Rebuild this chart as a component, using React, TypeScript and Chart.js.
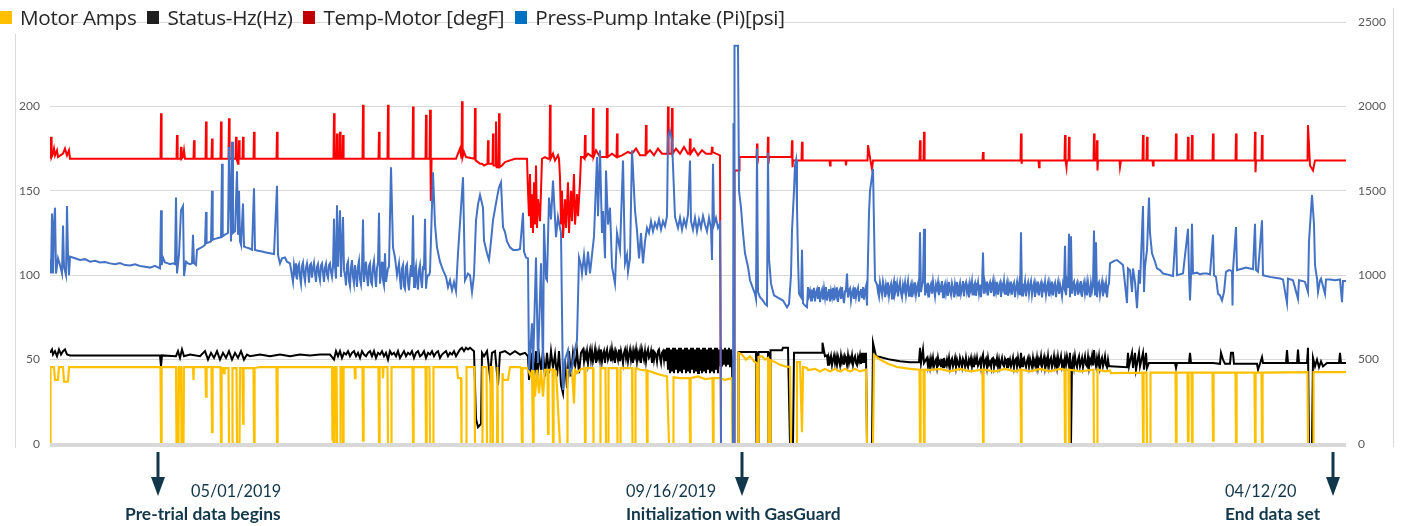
import React, { useEffect, useRef } from "react";
import { Chart, registerables } from "chart.js";

Chart.register(...registerables);

// Sample index (time-ordered logger samples) 0..1296
const SAMPLE_MAX = 1296;

// consecutive samples starting at `start`
const run = (start: number, values: number[], step = 1): [number, number][] =>
  values.map((v, i) => [start + i * step, v] as [number, number]);

// ---- Motor Amps (left axis) ----
const motorAmps: [number, number][] = [
  [0,0],[0.5,45.6],[4,45.6],[5,38],[8,38],[9,45.6],[13,45.6],[14,37],[18,37],[19,45.6],[110.5,45.6],[111,0],[111.6,45.6],[126,45.6],[126.5,0],[128.5,0],[129,45.6],[131,45.6],[131.5,0],[133.5,0],[134,45.6],[143,45.6],[143.5,38],[144,45.6],[155.5,45.6],[156,28],[156.6,45.6],[161.5,45.6],[162,7],[162.6,45.6],[170.5,45.5],[171,0],[171.6,45],[173.5,45],[174,42],[174.6,45],[178.5,45],[179,0],[182,0],[182.5,45],[186.5,45],[187,0],[189.5,0],[190,45],[192.5,45],[193,12],[193.6,45],[203.5,45],[204,0],[204.6,45],[210,45.6],[226.5,45.6],[227,0],[227.6,45.6],[282,45.6],[282.5,2],[283,45.6],[283.5,0],[284.5,0],[285,45.6],[286.5,45.6],[287,0],[290,0],[290.5,45.6],[292.5,45.6],[293,0],[293.6,45.6],[304.5,45.6],[305,39],[305.6,45.6],[312.5,45.6],[313,2],[313.6,45.6],[328.5,45.6],[329,0],[329.6,45.6],[332.5,45.6],[333,39],[333.6,45.6],[337.5,45.6],[338,0],[341,0],[341.5,45.6],[362.5,45.6],[363,0],[363.6,45.6],[375.5,45.6],[376,0],[376.6,45.6],[379.5,45.6],[380,0],[383,0],[383.5,45.6],[407,45.6],[408,39],[411,39],[411.5,0],[416,0],[416.5,45.6],[424.5,45.6],[425,0],[432,0],[432.5,45.6],[436.5,45.6],[437,0],[440,0],[440.5,45.6],[442.5,45.6],[443,0],[447,0],[447.5,45.6],[448,0],[452,0],[452.5,42],[453,38],[458,38],[460,45.6],[470,45.6],
  [471,45],[472,0],[472.6,45],[477,45],[478,44],[481,40],[482,44],[483,0],[483.6,44],[485,28],[487,44],[489,30],[491,44],[493,28],[495,44],[497.5,44],[498,6],[498.6,44],[502.5,44],[503,0],[503.6,44],[506,43],[510,0],[517,0],[517.5,44],[522,44],[524,24],[525,44],[527,42],[530,44],[534.5,45],[535,0],[535.6,45],[543,45],[543.5,0],[550,0],[550.5,45],[555.5,45],[556,0],[558,0],[558.5,45],[567,45],[567.5,0],[570,0],[570.5,45],[582,45],[582.5,0],[585,0],[585.5,45],[590,44],[596.5,43.5],[597,0],[597.6,43.5],[605,42],[610,41],[617,40],[619,0],[623,0],[623.5,39.5],[630,39],[639.5,39],[640,0],[640.6,39],[648,40],[655,38.5],[662.5,39],[663,0],[663.6,39],[670,39],[675,38],[682,39],[682.5,0],[688,0],[688.5,54],[692,53],[696,50],[700,52],[704,49],[706.5,48],[707,0],[708,0],[708.5,51.5],[712,52],[715,50],[718,51],[718.5,0],[720,0],[720.5,49.7],[725,48.5],[730,47],[735,46],[740,45.6],[741,0],[746,0],[747,48.5],[750,48.5],[752,7],[753,45.6],[757,45],[758,43.8],
  [765,44.5],[770,43],[775,44.5],[780,43],[785,44.5],[790,43],[795,44.5],[800,43],[805,44.5],[810,43],[816,44],[817,0],[823,0],[824,52.7],[830,50],[838,47.5],[847,45.6],[860,44.5],[869.5,44],[870,0],[870.6,44],[873.5,44],[874,0],[874.6,44],[880,43.8],[890,44.5],[900,43],[910,44.5],[920,43],[932.5,44],[933,0],[933.6,44],[945,43],[955,44.5],[965,43],[970.5,44],[971,0],[971.6,44],[980,43],[990,44.5],[1000,43],[1010,44.5],[1014.5,44],[1015,0],[1015.6,44],[1018.5,44],[1019,0],[1019.6,44],[1030,43],[1043.5,44],[1044,0],[1047,0],[1047.5,44],[1055,43],[1060,43.5],[1061,42],[1092.5,42.3],[1093,0],[1093.6,42.3],[1096.5,42.3],[1097,0],[1100,0],[1100.5,42.3],[1125.5,42.3],[1126,0],[1126.6,42.3],[1137.5,42.3],[1138,1.7],[1138.6,42.3],[1141.5,42.3],[1142,0],[1142.6,42.3],[1162.5,42.3],[1163,2],[1163.6,42.3],[1185.5,42.3],[1186,0],[1186.6,42.3],[1204.5,42.3],[1205,0],[1205.6,42.3],[1211.5,42.3],[1212,0],[1212.6,42.3],[1257.5,42.6],[1258,0],[1263,0],[1263.5,42.6],[1296,42.6]
];

// ---- Status-Hz (left axis) ----
const statusHzA: [number, number][] = [
  [0,54],[2,56],[3,53],[5,55],[7,52],[9,56],[11,53],[13,55],[15,56],[17,53],[20,52.5],[60,52.5],[110,52.5],[111,46],[112,52.5],[126,52],[128,55],[130,51],[132,56],[134,52],[140,53],[150,52],[155,55],[158,50],[161,54],[164,51],[167,55],[170,50],[173,54],[176,51],[179,55],[182,50],[185,54],[188,51],[191,55],[194,50],[197,53],[200,52],[210,53],[220,52],[230,53],[240,52],[250,53],[260,52.5],[270,53],[280,53]
];
const statusHzB = run(284, [
  50,55,52,55,51,54,53,55,52,54, 55,52,54,51,55,53,52,54,55,52, 55,51,54,53,55,52,54,50,55,53,
  54,52,55,51,53,55,52,54,53,55, 51,54,55,52,53,55,51,54,53,55, 52,54,55,51,53,54,55,52,54,53,
  55,52,54,56,57,55,57,56,57,56, 55
], 2);
const statusHzC: [number, number][] = [
  [426,15],[428,10],[431,12],[432,54],[434,52],[437,55],[440,40],[442,54],[445,55],[448,35],[450,54],[455,55],[460,53],[465,55],[470,53],[475,54],
  [478,52],[479,38],[480,55],[481,42],[482,54],[484,40],[486,55],[487,38],[489,53],[491,44],[493,55],[495,40],[497,54],[499,42],[501,55],[503,45],[505,53],[507,40],[509,55],[511,35],[513,30],[515,50],[517,33],[519,55],[521,40],[523,54],[525,45],[527,55],[529,42],[531,54]
];
const statusHzD = run(533, [
  56,49,54,51,55,48,53,56,50,55, 49,52,56,48,54,51,55,50,56,49, 53,55,48,54,56,50,52,55,49,56,
  51,54,48,55,53,50,56,49,55,52, 48,54,56,51,55,49,53,56,50,54, 48,55,52,56,49,54,51,55,48,56,
  53,50,55,49,54,56,51,52,55,48, 56,50,54,53,49,55,56,51,48,54, 55,50,56,49
]);
const statusHzE = run(617, [
  57,44,57,42,56,43,57,42,57,44, 56,42,57,43,57,42,56,44,57,42, 57,43,56,42,57,44,57,42,56,43,
  57,42,57,44,56,42,57,43,57,42, 56,44,57,42,57,43,56,42,57,44, 57,42,56,46,57,46,56,47,57,46,
  56,47,57,46,56,50
]);
const statusHzF: [number, number][] = [
  [683,0],[688,0],[688.5,54.5],[706,54.5],[706.5,0],[708,0],[708.5,54.5],[718,54.5],[718.5,0],[720,0],[720.5,55.6],[732,55.6],[733,57],[738,57],[740,0],[743,0],[744,54],[760,54],[772,54],[772.5,60],[775,52]
];
const statusHzG = run(777, [
  52.5,47,51,49,52,46.7,50,52.5,48,51.5, 47,52,49.5,46.7,52.5,48.5,51,47,52,50,
  46.7,52.5,48,51,49,52.5,47,50.5,52,48, 46.7,51.5,49,52.5,47.5,54
]);
const statusHzH: [number, number][] = [
  [813,48],[814,54],[815,48],[816,54],[817,0],[822,0],[823,60],[826,52],[830,51.5],[840,50],[850,49],[860,48.5],[869,48.5],[870,57],[871,48],[873,56],[874,48]
];
const statusHzI = run(877, [
  51,46,49.5,45.5,50.5,47,51,46,48.5,50, 45.5,51,47.5,49,46,50.5,45.5,51,48,46.5,
  50,47,51,45.5,49,50.5,46,48,51,45.5, 50,47.5,46,51,48.5,45.5,50.5,49,46,51,
  47,45.5,50,48,51,46,49.5,45.5,50.5,47, 51,46.5,48,50,45.5,51,53,46,49,50.5,
  45.5,51,47,48.5,46,50.5,51,45.5,49,47.5, 51,46,50,45.5,48.5,51,47,46,50.5,49,
  45.5,51,47.5,50,46,48,51,45.5,49.5,50.5, 46,51,47,45.5,54,46,50,51,47.5,45.5,
  49,51,46,50.5,48,45.5,51,47,49.5,46, 51,45.5,50,48,52,46,49,51.5,45.5,50,
  47,52,46,49.5,51,45.5,48,52,46.5,50, 45.5,51.5,47,49,52,46,48.5,45.5,51,47,
  52,49,46,54,0,48,51,46,52,47.5, 45.5,50,52,46,48.5,51,45.5,49,52,47,
  46,51.5,45.5,50,48,52,46.5,55.6,49,46, 51,47.5,52,45.5,49,51,46,48.5,52,47,
  45.5,50,46
]);
const statusHzJ: [number, number][] = [
  [1060,46],[1077,45.5],[1078,54],[1079,46],[1082,54],[1083,45],[1085,54],[1086,44],[1089,54],[1090,46],[1093,54],[1094,44],[1096,54],[1097,45],[1099,48],[1110,48],[1125,48],[1126,45],[1127,48],[1139,48],[1140,54],[1141,48],[1163,48],[1170,47.5],[1171,54],[1173,50],[1175,47.5],[1180,47.5],[1181,54],[1183,54],[1184,47.5],[1207,47.5],[1208,44],[1210,47.5],[1212,51.5],[1213,48],[1236,48],[1237,55.6],[1238,48],[1247,48],[1248,56],[1249,48],[1257,48],[1258,57],[1259,0],[1262,0],[1263,51],[1265,46],[1267,50],[1269,45.5],[1271,49],[1273,46],[1277,48],[1289,48],[1290,54],[1291,48],[1296,48]
];
const statusHz = [...statusHzA, ...statusHzB, ...statusHzC, ...statusHzD, ...statusHzE, ...statusHzF, ...statusHzG, ...statusHzH, ...statusHzI, ...statusHzJ];

// ---- Temp-Motor (left axis) ----
const tempMotor: [number, number][] = [
  [0,169],[1,182],[1.6,170],[3,172],[4,175],[5,171],[7,174],[8,170],[13,172],[15,175],[17,171],[19,174],[20,169],
  [110.5,169],[111,196],[111.6,169],[126.5,169],[127,183],[127.6,169],[130.5,169],[131,176],[131.6,169],[133,170],[134,174],[135,169],[143.5,169],[144,180],[144.6,169],
  [155.5,169],[156,191],[156.6,169],[161.5,169],[162,181],[162.6,169],[170.5,169],[171,191],[171.6,169],[178.5,169],[179,193],[179.6,169],[185.5,169],[186,182],[186.6,169],[188,166],[188.5,169],[189,180],[189.6,169],[192.5,169],[193,182],[193.6,169],[203.5,169],[204,185],[204.6,169],[226.5,169],[227,185],[227.6,169],
  [283.5,169],[284,196],[284.6,169],[286.5,169],[287,184],[287.6,169],[289.5,169],[290,185],[290.6,169],[292.5,169],[293,183],[293.6,169],
  [312.5,169],[313,201],[313.6,169],[328.5,169],[329,185],[329.6,169],[337.5,169],[338,201],[338.6,169],[362.5,169],[363,200],[363.6,169],[375.5,169],[376,195],[376.6,169],[379.5,169],[380,198],[380.6,169],[381,144],[381.6,169],
  [406,169],[408,172],[410,175],[411.5,169],[412,203],[412.6,170],[414,173],[416,170],[424.5,169],[425,199],[425.6,168],[428,167],[430,166],[432,166],[434,165],[437.5,166],[438,180],[438.6,166],[442.5,166],[443,184],[443.6,165],[445.5,165],[446,191],[446.6,164],[448.5,164],[449,196],[449.6,164],[452,165],[455,167],[460,168],[465,169],[470,169],[475,169],[477,169],
  [478,150],[479,135],[480,160],[481,128],[482,148],[483,125],[484,155],[485,130],[486,165],[487,128],[488,145],[489,140],[490,132],[491,150],[492,169],
  [495,170],[498,169],[499.5,169],[500,201],[500.6,169],[503,172],[505,168],[508,171],[509,169],
  [510,158],[511,130],[512,150],[513,122],[515,145],[516,128],[518,155],[519,125],[521,150],[522,132],[524,160],[525,130],[527,148],[528,135],[530,155],[531,170],
  [533,170],[534.5,169],[535,183],[535.6,170],[538,172],[542.5,170],[543,199],[543.6,170],[546,174],[550,170],[556.5,170],[557,199],[557.6,170],[562,172],[566.5,170],[567,184],[567.6,170],[572,171],[578,173],[582,172],[586,175],[590,171],[595.5,171],[596,189],[596.6,172],[600,174],[604,171],[608,175],[612,172],[617.5,172],[618,200],[618.6,172],[621.5,172],[622,199],[622.6,172],[626,175],[630,172],[634,176],[638,172],[639.5,172],[640,181],[640.6,172],[644,175],[648,171],[652,174],[656,172],[661.5,172],[662,176],[662.6,173],[666,172],[670,171],
  [671,0],[684,0],[684.5,162],[689,162],[689.5,170],
  [706.5,170],[707,178],[707.5,166],[708,170],[717.5,170],[718,182],[718.5,166],[719,170],[741.5,170],[742,180],[742.5,164],[743,168],[751.5,168],[752,179],[752.6,168],
  [779.5,168],[780,165],[780.6,168],[795.5,168],[796,165],[796.6,168],[817.5,168],[818,177],[821,166],[822,163],[823,168],
  [869.5,168],[870,180],[870.6,168],[873.5,168],[874,185],[874.6,168],[932.5,168],[933,173],[933.6,168],[970.5,168],[971,184],[971.6,166],[972,168],[988.5,168],[989,164],[989.6,168],
  [1014.5,168],[1015,183],[1015.6,168],[1016.5,164],[1017,168],[1018.5,168],[1019,182],[1019.6,168],[1043.5,168],[1044,184],[1044.6,168],[1046.5,168],[1047,180],[1047.5,162],[1048,168],[1069.5,168],[1070,164],[1071,168],[1092.5,168],[1093,183],[1093.6,168],[1096.5,168],[1097,182],[1097.6,168],[1102.5,168],[1103,165],[1103.6,168],[1125.5,168],[1126,184],[1126.6,168],[1137.5,168],[1138,182],[1138.6,168],[1141.5,168],[1142,183],[1142.6,168],[1162.5,168],[1163,184],[1163.6,168],[1185.5,168],[1186,184],[1186.6,168],[1204.5,168],[1205,185],[1205.5,161],[1206,168],[1211.5,168],[1212,183],[1212.6,168],[1257.5,168],[1258,189],[1260,165],[1263,162],[1265,168],[1296,168]
];

// ---- Press-Pump Intake (right axis, psi) ----
const pressA: [number, number][] = [
  [0,1095],[1,1010],[2,1365],[3,1010],[4,1300],[5,1400],[6,1010],[8,1100],[10,1060],[12,1010],[13,1295],[14,1050],[16,1000],[17,1410],[18,1120],[19,1000],[20,1110],
  [25,1100],[30,1090],[35,1095],[40,1080],[45,1085],[50,1075],[55,1078],[60,1070],[65,1065],[70,1072],[75,1060],[80,1058],[85,1065],[90,1055],[95,1050],[100,1045],[105,1055],[110,1040],
  [110.5,1040],[111,1385],[111.8,1060],[113,1105],[115,1075],[118,1070],[120,1065],[123,1070],
  [125,1065],[126,1460],[127,1010],[129,1120],[131,1385],[133,1410],[134,995],[136,1080],[138,1070],[140,1065],
  [142,1070],[143,1240],[144,1070],[146,1060],[147,1150],[150,1160],
  [153,1170],[155,1180],[156,1375],[156.6,1190],[159,1195],[161,1200],[162,1500],[162.7,1210],[165,1215],[168,1220],[171,1225],[172,1660],[172.7,1230],[175,1240],[178,1250],[179,1760],[181,1200],[182,1790],[183,1250],[185,1260],[187,1615],[188,1240],[189,1500],[190,1200],[191,1180],[193,1425],[194,1170],[196,1165],[199,1160],[202,1150],[204,1515],[205,1150],[208,1145],[212,1140],[216,1135],[220,1130],[224,1125],[227,1530],[228,1120],[230,1070],[232,1100],[235,1105],[237,1080],[240,1070]
];
const pressB = run(243, [
  960,1060,1020,1070,975,1050,1065,990,950,1055, 1075,1000,965,1045,1070,1030,955,1060,1068,985,
  1040,1072,1010,960,1050,1066,1000,970,1058,1070, 1015,960,1045,1068,1005,985,1060,1070,1020,990, 1050
]);
const pressC: [number, number][] = [
  [284,1335],[285,1050],[286,980],[287,1415],[288,1050],[290,1385],[291,990],[293,1345],[294,1030]
];
const pressD = run(295, [
  1000,940,1060,1080,965,935,1045,1090,990,950, 1060,1010,930,1050,1085,975,945,1040,1330,960,
  1020,1080,990,935,1055,1070,960,945,1050,1085, 1000,930,1040,1075,1370,950,1010,1080,970,940,
  1130,960,1000,1040
]);
const pressE: [number, number][] = [[339,1050],[341,1640],[343,1165],[345,1105],[347,1000]];
const pressF = run(349, [
  1070,980,915,1040,1060,935,920,1050,1065,960, 910,1000,1060,990,1355,930,1010,1050,960,915,
  1030,1060,975,925,1045,1040,1335,920,985,1000, 1000,1020
]);
const pressG: [number, number][] = [
  [383,1610],[385,1300],[387,1165],[390,1080],[393,1030],[396,990],[398,930],[400,970],[402,910],[404,960],[406,905],[408,1130],[413,1580],[415,970],[418,1010],[420,1000],[422,900],
  [424,1000],[426,1325],[428,1420],[430,1475],[433,1400],[434,1205],[437,1130],[439,1090],[441,1200],[443,1325],[447,1460],[449,1520],[451,1550],[453,1285],[455,1255],[457,1200],[460,1165],[463,1150],[467,1150],[470,1155],
  [473,1370],[474,1140],[476,1105],[478,1100],
  [479,440],[481,620],[482,715],[483,440],[486,1105],[488,480],[491,1070],[493,440],[494,1305],[496,980],[497,970],[499,1460],[501,1330],[503,1560],[506,1225],[508,1345],[511,1250],
  [513,320],[515,500],[518,555],[520,420],[522,455],[525,560],[527,615],[529,1105],[531,1060],[532,1010],
  [534,1120],[536,1000],[538,1140],[540,1010],[542,1120],[544,1230],[547,1700],[548,1350],[550,1740],[552,1250],[553,1380],[555,1100],[556,1620],[558,1300],[560,1400],[562,1050],[565,950],[567,1250],[570,1150],[573,1680],[575,1070],[577,1120],[578,1020],[580,1100],
  [582,1740],[585,1385],[587,1265],[589,1100],[591,1250],[593,1070],[595,1200],[597,1280],[599,1250],[601,1320],[603,1260],[605,1310],[607,1280],[609,1330],[611,1270],[613,1320],[615,1290],
  [617,1350],[618,1820],[620,1855],[622,1800],[625,1345],[628,1280],[630,1340],[632,1270],[634,1330],[636,1290],[638,1360],[640,1680],[641,1320],[643,1270],[645,1340],[647,1260],[649,1330],[651,1280],[653,1350],[655,1300],[657,1260],[659,1340],[661,1280],[662,1090],[663,1660],[664,1300],[666,1340],[668,1280],[670,1305],
  [671,0],[683,0],[683.5,1900],[684,0],[684.5,2360],[688,2360],[689,1500],
  [691,1400],[693,1250],[695,1130],[698,1050],[700,970],[703,920],[705,890],[706,860],[707,1750],[708,900],[710,870],[713,850],[715,830],[717,820],[718,1725],[719,1100],[721,950],[724,880],[727,870],[730,860],[733,850],[737,810],[739,830],[741,1000],[742,1265],[744,1500],[745,1650],[746,1680],[747,1400],[748,1100],[749,890],[751,870],[752,1150],[753,835],[755,820],[757,810]
];
const pressH = run(758, [
  930,880,905,850,915,870,925,845,895,915, 860,930,840,890,912,855,920,870,930,850,
  898,918,845,905,872,925,850,910,880,928, 842,900,915,860,930,875,835,905,920,1010,
  868,910,922,850,895,915,860,928,870,905, 925,845,900,918,870,930,855,910,935,820
]);
const pressI: [number, number][] = [[818,1100],[819,1365],[820,1500],[823,1630],[825,970]];
const pressJ = run(827, [
  945,900,872,955,918,884,962,930,870,940, 905,958,880,925,948,862,935,965,890,915,
  950,875,928,960,895,868,942,912,955,883, 930,965,878,920,945,870,938,905,958,885,
  925,950,872,1255,900,940,960,1275,880,935, 910,955,868,930,948,890,962,915,875,945,
  920,958,882,935,905,965,870,928,950,895, 940,878,960,912,885,952,925,868,945,905,
  960,880,930,955,890,920,965,875,940,958, 900,932,868,950,915,962,885,938,955,878,
  928,960,895,945,870,935,1135,890,952,915, 962,880,940,958,895,928,965,875,948,905,
  960,885,935,955,872,942,918,965,890,930, 958,878,945,912,962,885,938,955,870,925,
  960,900,945,882,1255,880,950,920,962,875, 935,958,890,940,965,885,930,955,872,945,
  915,962,880,935,955,868,940,918,960,885, 930,958,875,945,905,962,880,938,955,870,
  928,960,890,945,915,875,952,930,1175,882, 958,925,1245,870,1230,890,948,962,878,935,
  955,885,940,912,965,872,930,958,895,945, 880,960,918,870,950,905,938,1265,880,1195,
  870,945,958,885,930,962,875,942,915,955, 868,935,950
]);
const pressK: [number, number][] = [
  [1060,1070],[1064,1085],[1067,1090],[1070,1075],[1073,1060],[1077,835],[1078,1040],[1080,1030],[1082,900],[1083,1040],[1085,960],[1087,805],[1089,1030],[1090,950],[1093,1410],[1094,900],[1095,1050],[1097,1150],[1099,1460],[1100,1250],[1102,1130],[1105,1080],[1107,1040],[1110,1030],[1113,1010],[1117,1005],[1120,1000],[1123,995],[1126,1285],[1127,1000],[1130,1005],[1133,1010],[1138,1275],[1139,1010],[1140,850],[1141,1000],[1142,1305],[1143,1010],[1147,1015],[1150,1005],[1153,1010],[1157,1010],[1160,1005],[1163,1240],[1164,1000],[1166,990],[1168,890],[1170,880],[1172,850],[1174,900],[1176,1020],[1179,1030],[1182,1025],[1182.5,820],[1183,1030],[1186,1285],[1187,1030],[1190,1035],[1193,1040],[1196,1045],[1200,1040],[1203,1035],[1205,1305],[1206,1030],[1208,1020],[1212,1325],[1213,1000],[1216,995],[1220,990],[1225,985],[1230,980],[1233,975],[1237,835],[1238,980],[1243,970],[1248,860],[1249,970],[1253,965],[1255,960],[1258,900],[1259,1200],[1262,1475],[1264,1300],[1265,1060],[1267,980],[1268,900],[1270,970],[1271,980],[1275,890],[1276,975],[1280,975],[1285,970],[1290,975],[1292,840],[1293,965],[1296,965]
];
const pressPump = [...pressA, ...pressB, ...pressC, ...pressD, ...pressE, ...pressF, ...pressG, ...pressH, ...pressI, ...pressJ, ...pressK];

const seriesLabels = ["Motor Amps", "Status-Hz(Hz)", "Temp-Motor [degF]", "Press-Pump Intake (Pi)[psi]"];
const lineColors = ["#FFC000", "#000000", "#FF0000", "#4472C4"];
const legendColors = ["#FFC000", "#1f1f1f", "#C00000", "#0070C0"];

const leftTicks = [0, 50, 100, 150, 200, 250];
const rightTicks = [0, 500, 1000, 1500, 2000, 2500];

// Event markers (sample index) and their labels
const markerSamples = [108, 692, 1283];
const markerDates = ["05/01/2019", "09/16/2019", "04/12/20"];
const markerNotes = ["Pre-trial data begins", "Initialization with GasGuard", "End data set"];

const toPoints = (pairs: [number, number][]) => pairs.map(([x, y]) => ({ x, y }));

const FONT = "Lato, 'Open Sans', sans-serif";
const LEGEND_FONT = "'Open Sans', Lato, sans-serif";
const NAVY = "#12374a";

const decorPlugin = {
  id: "decor",
  afterDatasetsDraw(chart: any) {
    const { ctx, chartArea, scales } = chart;
    const y0 = scales.y.getPixelForValue(0);
    ctx.save();
    ctx.strokeStyle = "#d9d9d9";
    ctx.lineWidth = 4;
    ctx.beginPath();
    ctx.moveTo(chartArea.left, y0 + 1);
    ctx.lineTo(chartArea.right, y0 + 1);
    ctx.stroke();
    ctx.lineWidth = 1;
    ctx.beginPath();
    ctx.moveTo(15.5, 34);
    ctx.lineTo(15.5, 448);
    ctx.moveTo(1393.5, 8);
    ctx.lineTo(1393.5, 447);
    ctx.stroke();
    ctx.strokeStyle = NAVY;
    ctx.fillStyle = NAVY;
    markerSamples.forEach((s) => {
      const px = Math.round(scales.x.getPixelForValue(s));
      ctx.lineWidth = 3;
      ctx.beginPath();
      ctx.moveTo(px, y0 + 8);
      ctx.lineTo(px, y0 + 38);
      ctx.stroke();
      ctx.beginPath();
      ctx.moveTo(px - 7, y0 + 33);
      ctx.lineTo(px + 7, y0 + 33);
      ctx.lineTo(px, y0 + 52);
      ctx.closePath();
      ctx.fill();
    });
    ctx.restore();
  },
};

const datePos = [
  { left: 191, noteLeft: 125 },
  { left: 626, noteLeft: 626 },
  { left: 1225, noteLeft: 1225 },
];

export default function App() {
  const canvasRef = useRef<HTMLCanvasElement | null>(null);

  useEffect(() => {
    if (!canvasRef.current) return;
    const seriesData = [motorAmps, statusHz, tempMotor, pressPump];
    const orders = [1, 3, 2, 0];
    const widths = [2.2, 2, 2, 2];
    const chart = new Chart(canvasRef.current, {
      type: "line",
      data: {
        datasets: seriesData.map((d, i) => ({
          label: seriesLabels[i],
          data: toPoints(d),
          borderColor: lineColors[i],
          backgroundColor: lineColors[i],
          borderWidth: widths[i],
          yAxisID: i === 3 ? "y1" : "y",
          order: orders[i],
          pointRadius: 0,
          tension: 0,
          fill: false,
        })),
      },
      options: {
        animation: false,
        responsive: false,
        devicePixelRatio: 1,
        events: [],
        layout: { padding: { top: 22, bottom: 82, left: 0, right: 0 } },
        plugins: { legend: { display: false }, tooltip: { enabled: false } },
        scales: {
          x: { type: "linear", min: 0, max: SAMPLE_MAX, display: false },
          y: {
            position: "left",
            min: leftTicks[0],
            max: leftTicks[leftTicks.length - 1],
            afterBuildTicks: (s: any) => { s.ticks = leftTicks.map((v) => ({ value: v })); },
            ticks: {
              color: "#595959",
              font: { family: FONT, size: 12 },
              padding: 10,
              callback: (v: any) => (v === 250 ? "" : String(v)),
            },
            grid: {
              color: (c: any) => (c.tick && c.tick.value === 0 ? "rgba(0,0,0,0)" : "#d9d9d9"),
              drawTicks: false,
              lineWidth: 1,
            },
            border: { display: false },
            afterFit: (s: any) => { s.width = 50; },
          },
          y1: {
            position: "right",
            min: rightTicks[0],
            max: rightTicks[rightTicks.length - 1],
            afterBuildTicks: (s: any) => { s.ticks = rightTicks.map((v) => ({ value: v })); },
            ticks: { color: "#595959", font: { family: FONT, size: 12 }, padding: 12, callback: (v: any) => String(v) },
            grid: { display: false, drawTicks: false },
            border: { display: false },
            afterFit: (s: any) => { s.width = 58; },
          },
        },
      },
      plugins: [decorPlugin],
    } as any);
    if ((document as any).fonts && (document as any).fonts.ready) {
      (document as any).fonts.ready.then(() => chart.update());
    }
    return () => chart.destroy();
  }, []);

  return (
    <div style={{ position: "fixed", left: 0, top: 0, width: 1404, height: 526, background: "#fff", fontFamily: FONT }}>
      <canvas ref={canvasRef} width={1404} height={526} style={{ position: "absolute", left: 0, top: 0, width: 1404, height: 526 }} />
      <div style={{ position: "absolute", left: 0, top: 5, display: "flex", alignItems: "center", height: 24, fontSize: 20.7, fontFamily: LEGEND_FONT, color: "#262626", whiteSpace: "nowrap", letterSpacing: -0.3 }}>
        {seriesLabels.map((label, i) => (
          <div key={label} style={{ display: "flex", alignItems: "center", marginRight: 11 }}>
            <span style={{ display: "inline-block", width: 12, height: 13, background: legendColors[i], marginRight: 8 }} />
            <span>{label}</span>
          </div>
        ))}
      </div>
      {markerDates.map((d, i) => (
        <React.Fragment key={d}>
          <div style={{ position: "absolute", left: datePos[i].left, top: 480, fontSize: 16.3, lineHeight: "22px", color: NAVY, whiteSpace: "nowrap" }}>{d}</div>
          <div style={{ position: "absolute", left: datePos[i].noteLeft, top: 503, fontSize: 17.4, lineHeight: "22px", fontWeight: 700, color: NAVY, whiteSpace: "nowrap" }}>{markerNotes[i]}</div>
        </React.Fragment>
      ))}
    </div>
  );
}
